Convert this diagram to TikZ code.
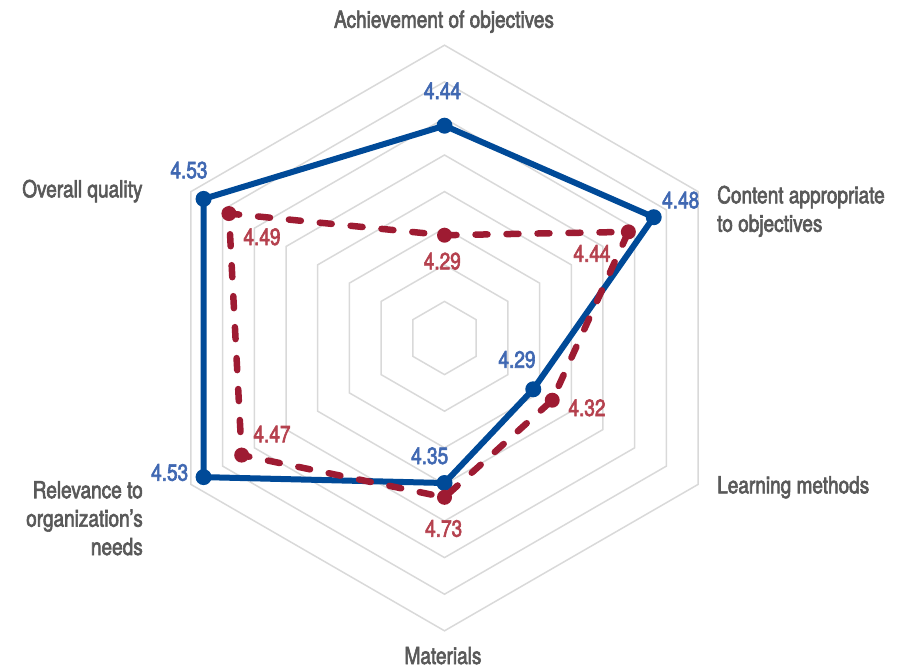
\documentclass[tikz,border=0pt]{standalone}
\usepackage{fontspec}
\setmainfont{TeX Gyre Heros}[FakeStretch=0.81, FakeBold=2.6]
\definecolor{gridc}{HTML}{D9D9D9}
\definecolor{blueline}{HTML}{004A98}
\definecolor{bluetext}{HTML}{4068B2}
\definecolor{redline}{HTML}{9E1B32}
\definecolor{redtext}{HTML}{B5414E}
\definecolor{axtext}{HTML}{595959}
\tikzset{
  gridline/.style={draw=gridc, line width=1.5pt},
  axlabel/.style={text=axtext, inner sep=0pt, font=\fontsize{23.5}{28.4}\selectfont},
  bval/.style={text=bluetext, inner sep=0pt, anchor=base, font=\fontsize{23.5}{26}\selectfont},
  rval/.style={text=redtext, inner sep=0pt, anchor=base, font=\fontsize{23.5}{26}\selectfont},
  bseries/.style={draw=blueline, line width=6pt, line join=round},
  rseries/.style={draw=redline, line width=6.5pt, line cap=round, line join=round, dash pattern=on 12pt off 19pt},
  bdot/.style={circle, fill=blueline, inner sep=0pt, minimum size=16pt},
  rdot/.style={circle, fill=redline, inner sep=0pt, minimum size=15pt},
}
\begin{document}
\begin{tikzpicture}[x=1pt, y=1pt]
\useasboundingbox (0,0) rectangle (912,-670);
\coordinate (C) at (444.5,-338);
\begin{scope}[shift={(C)}]
  % grid rings
  \foreach \k in {1,...,8} {
    \draw[gridline] (90:{\k*36.6}) -- (30:{\k*36.6}) -- (-30:{\k*36.6}) -- (-90:{\k*36.6}) -- (210:{\k*36.6}) -- (150:{\k*36.6}) -- cycle;
  }
  % blue series
  \coordinate (b1) at (90:212.3);
  \coordinate (b2) at (30:241.6);
  \coordinate (b3) at (-30:102.5);
  \coordinate (b4) at (-90:145);
  \coordinate (b5) at (210:278.2);
  \coordinate (b6) at (150:278.2);
  % red series
  \coordinate (r1) at (90:102.8);
  \coordinate (r2) at (30:212.3);
  \coordinate (r3) at (-30:124.4);
  \coordinate (r4) at (-90:159.3);
  \coordinate (r5) at (210:234.2);
  \coordinate (r6) at (150:248.9);
\end{scope}
\draw[bseries] (b1) -- (b2) -- (b3) -- (b4) -- (b5) -- (b6) -- cycle;
\foreach \i in {1,...,6} { \node[bdot] (bd\i) at (b\i) {}; }
\draw[rseries] (r1) -- (r2) -- (r3) -- (r4) -- (r5) -- (r6) -- cycle;
\foreach \i in {1,...,6} { \node[rdot] (rd\i) at (r\i) {}; }
% axis labels
\node[axlabel, anchor=base] (la1) at (444,-27.7) {Achievement of objectives};
\node[axlabel, anchor=base west, align=left] (la2) at (717,-231.7) {Content appropriate\\to objectives};
\node[axlabel, anchor=base west] (la3) at (717,-493.3) {Learning methods};
\node[axlabel, anchor=base] (la4) at (443,-664) {Materials};
\node[axlabel, anchor=base east, align=right] (la5) at (143,-555) {Relevance to\\organization’s\\needs};
\node[axlabel, anchor=base east] (la6) at (142.7,-197.3) {Overall quality};
% blue values
\node[bval] (vb1) at (442.5,-99) {4.44};
\node[bval] (vb2) at (680.7,-208.3) {4.48};
\node[bval] (vb3) at (517,-367.7) {4.29};
\node[bval] (vb4) at (429.7,-464) {4.35};
\node[bval] (vb5) at (169.7,-480.7) {4.53};
\node[bval] (vb6) at (189,-178.3) {4.53};
% red values
\node[rval] (vr1) at (442.3,-269.3) {4.29};
\node[rval] (vr2) at (592,-261.7) {4.44};
\node[rval] (vr3) at (587,-416) {4.32};
\node[rval] (vr4) at (443.7,-536.7) {4.73};
\node[rval] (vr5) at (272,-442.3) {4.47};
\node[rval] (vr6) at (262,-245) {4.49};
\end{tikzpicture}
\end{document}
